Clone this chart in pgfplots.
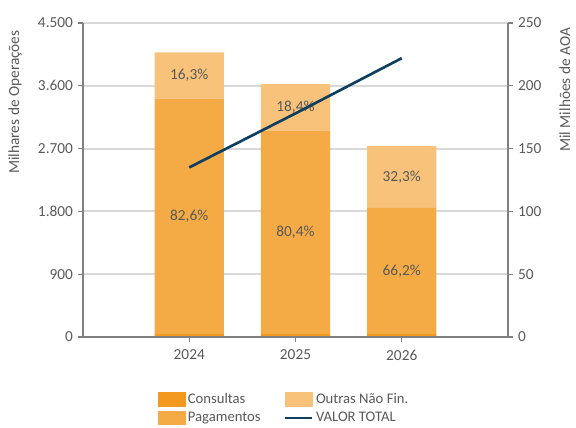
\documentclass[border=0pt]{standalone}
\usepackage{pgfplots}
\pgfplotsset{compat=1.18}
\usepackage{fontspec}
\setmainfont{Carlito}
\definecolor{cons}{HTML}{F39A1E}
\definecolor{pag}{HTML}{F5AB45}
\definecolor{outr}{HTML}{F8C27A}
\definecolor{linec}{HTML}{0E3F5F}
\definecolor{txt}{HTML}{595959}
\definecolor{axc}{HTML}{808080}
\definecolor{grd}{HTML}{D9D9D9}
\newcommand{\fnt}{\fontsize{11.5}{13.8}\selectfont}
\pgfplotsset{base/.style={
  at={(62.25pt,68.25pt)}, anchor=south west, scale only axis,
  width=318.75pt, height=235.5pt, xmin=-1, xmax=3,
  font=\fnt,
  tick label style={font=\fnt, text=txt},
  label style={font=\fnt, text=txt},
  /pgf/number format/.cd, 1000 sep={.}, assume math mode=true, /pgfplots/.cd,
  axis line style={axc, line width=1.5pt},
  major tick style={axc, line width=0.8pt},
  major tick length=4pt, tick align=outside,
}}
\pgfplotstableread{
x cons pag outr
0 45 3370 665
1 43 2915 667
2 41 1811 884
}\bars
\pgfplotstableread{
x y lab
0 1730 82,6
0 3747 16,3
1 1500 80,4
1 3291 18,4
2 946 66,2
2 2294 32,3
}\labs
\begin{document}
\begin{tikzpicture}
\path[use as bounding box] (0,0) rectangle (432pt,321pt);
\begin{axis}[base, ymin=0, ymax=4500, ytick={0,900,...,4500},
  ybar stacked, bar width=0.65,
  axis x line=none, axis y line*=left,
  xtick=\empty,
  ymajorgrids, grid style={grd, line width=1.5pt},
  ylabel={Milhares de Operações},
  ylabel style={at={(axis description cs:-0.16,0.748)}, anchor=center},
]
\addplot[fill=cons, draw=none] table[x=x, y=cons] {\bars};
\addplot[fill=pag, draw=none] table[x=x, y=pag] {\bars};
\addplot[fill=outr, draw=none] table[x=x, y=outr] {\bars};
\end{axis}
\begin{axis}[base, ymin=0, ymax=4500, hide axis]
\addplot[draw=none, mark=none, nodes near coords={\pgfplotspointmeta\%},
  point meta=explicit symbolic,
  every node near coord/.style={anchor=center, font=\fnt, text=txt}]
  table[x=x, y=y, meta=lab] {\labs};
\end{axis}
\begin{axis}[base, ymin=0, ymax=250, ytick={0,50,...,250},
  axis x line*=bottom, axis y line*=right,
  xtick={0,1,2}, xticklabels={2024,2025,2026},
  xticklabel style={yshift=-2pt},
  ylabel={Mil Milhões de AOA},
  ylabel style={at={(axis description cs:1.134,0.787)}, anchor=center},
  legend columns=2,
  legend cell align=left,
  legend style={at={(axis description cs:0.176,-0.17)}, anchor=north west,
    draw=none, fill=none, inner sep=0pt, text=txt, row sep=1pt,
    font=\fontsize{11}{13.2}\selectfont,
    /tikz/every even column/.append style={column sep=15.5pt}},
]
\addlegendimage{legend image code/.code={\fill[cons] (0pt,-5pt) rectangle (20pt,5pt);}}
\addlegendentry{Consultas}
\addlegendimage{legend image code/.code={\fill[outr] (0pt,-5pt) rectangle (20pt,5pt);}}
\addlegendentry{Outras Não Fin.}
\addlegendimage{legend image code/.code={\fill[pag] (0pt,-5pt) rectangle (20pt,5pt);}}
\addlegendentry{Pagamentos}
\addplot[linec, line width=2pt, mark=none,
  legend image code/.code={\draw[linec, line width=2pt] (0pt,0pt) -- (20pt,0pt);}]
  coordinates {(0,135) (1,178) (2,222)};
\addlegendentry{VALOR TOTAL}
\end{axis}
\end{tikzpicture}
\end{document}
